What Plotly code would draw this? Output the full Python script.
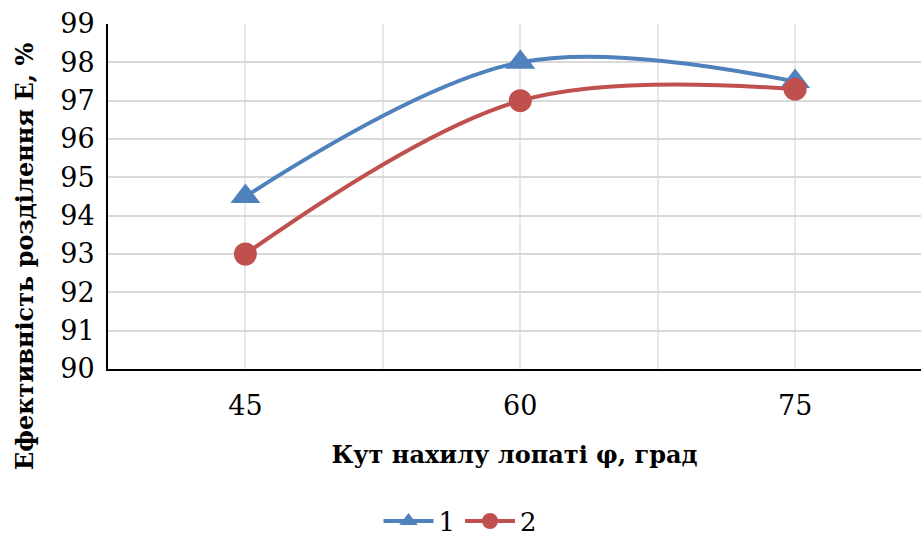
import plotly.graph_objects as go

angles = [45, 60, 75]
series1 = [94.5, 98.0, 97.5]
series2 = [93.0, 97.0, 97.3]
x_ticks = [45, 60, 75]
y_ticks = [90, 91, 92, 93, 94, 95, 96, 97, 98, 99]

FONT = "DejaVu Serif"

fig = go.Figure()
fig.add_trace(go.Scatter(
    x=angles, y=series1, name="1", mode="lines+markers",
    line=dict(color="#4F81BD", width=4, shape="spline", smoothing=1),
    marker=dict(symbol="triangle-up", size=26, color="#4F81BD"),
))
fig.add_trace(go.Scatter(
    x=angles, y=series2, name="2", mode="lines+markers",
    line=dict(color="#C0504D", width=4, shape="spline", smoothing=1),
    marker=dict(symbol="circle", size=23, color="#C0504D"),
))

fig.update_layout(
    width=921, height=540,
    margin=dict(l=108, r=0, t=24, b=171),
    paper_bgcolor="white", plot_bgcolor="white",
    font=dict(family=FONT, size=26, color="black"),
    showlegend=True,
    legend=dict(orientation="h", xref="container", yref="container",
                x=0.5, xanchor="center", y=0.035, yanchor="middle",
                font=dict(family=FONT, size=26), itemwidth=50),
    annotations=[dict(
        text="<b>Ефективність розділення Е, %</b>", textangle=-90,
        xref="paper", yref="paper", x=-0.102, y=0.325,
        xanchor="center", yanchor="middle", showarrow=False,
        font=dict(family=FONT, size=24, color="black"),
    )],
)
fig.update_xaxes(
    range=[37.5, 81.87], tickvals=x_ticks, ticktext=[str(v) for v in x_ticks],
    showgrid=False, zeroline=False,
    showline=True, linecolor="black", linewidth=2,
    ticks="", ticklabelstandoff=12,
    tickfont=dict(family=FONT, size=27),
    minor=dict(dtick=7.5, tick0=37.5, showgrid=True, gridcolor="#E8E8E8", gridwidth=1.5),
    title=dict(text="<b>Кут нахилу лопаті φ, град</b>", font=dict(family=FONT, size=24), standoff=26),
)
fig.update_yaxes(
    range=[90, 99], tickvals=y_ticks,
    showgrid=True, gridcolor="#D9D9D9", gridwidth=1.5, zeroline=False,
    showline=True, linecolor="black", linewidth=2,
    ticks="", ticklabelstandoff=6,
    tickfont=dict(family=FONT, size=27),
)
fig.write_html("out.html")
